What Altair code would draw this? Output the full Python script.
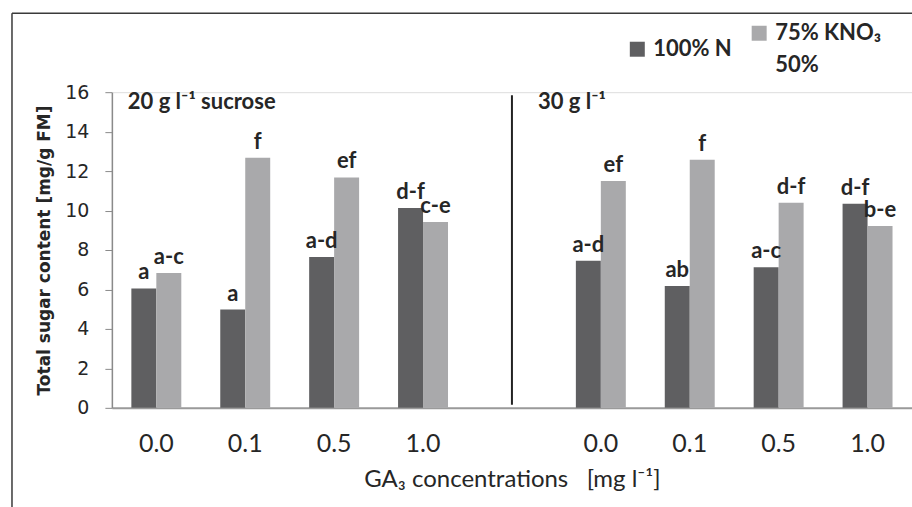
import altair as alt
import pandas as pd

# ---- data ----
sucrose = ["20", "20", "20", "20", "30", "30", "30", "30"]
ga3 = ["0.0", "0.1", "0.5", "1.0", "0.0", "0.1", "0.5", "1.0"]
series_names = ["100% N", "75% KNO₃ 50%"]
n100_values = [6.05, 4.98, 7.64, 10.13, 7.45, 6.17, 7.13, 10.35]
kno3_values = [6.84, 12.68, 11.68, 9.42, 11.50, 12.58, 10.40, 9.22]
n100_letters = ["a", "a", "a-d", "d-f", "a-d", "ab", "a-c", "d-f"]
kno3_letters = ["a-c", "f", "ef", "c-e", "ef", "f", "d-f", "b-e"]
y_ticks = [0, 2, 4, 6, 8, 10, 12, 14, 16]

slots = [f"{s}-{g}" for s, g in zip(sucrose[:4], ga3[:4])] + ["gap"] + \
        [f"{s}-{g}" for s, g in zip(sucrose[4:], ga3[4:])]

rows = []
for i in range(8):
    key = f"{sucrose[i]}-{ga3[i]}"
    rows.append({"slot": key, "series": series_names[0], "value": n100_values[i], "letter": n100_letters[i]})
    rows.append({"slot": key, "series": series_names[1], "value": kno3_values[i], "letter": kno3_letters[i]})
df = pd.DataFrame(rows)

DARK = "#5f5f61"
LIGHT = "#a9a9ab"
TXT = "#262626"

x_scale = alt.Scale(domain=slots, paddingInner=0, paddingOuter=0)
x_axis = alt.Axis(
    title="GA₃ concentrations\u00a0\u00a0\u00a0[mg l⁻¹]",
    labelExpr="datum.value == 'gap' ? '' : split(datum.value, '-')[1]",
    ticks=False, tickSize=0, labelPadding=24, labelAngle=0,
    labelFont="Lato", labelFontSize=25, labelColor=TXT,
    titleFont="Lato", titleFontSize=24, titleFontWeight="normal", titleColor=TXT,
    titlePadding=11,
    domainColor="#9a9a9a", domainWidth=2,
)
y_scale = alt.Scale(domain=[0, 16], nice=False)
y_axis = alt.Axis(
    title="Total sugar content [mg/g FM]",
    values=y_ticks, labelOverlap=False,
    grid=False, tickSize=7, tickColor="#8a8a8a", domainColor="#8a8a8a", domainWidth=1.5,
    labelFont="DejaVu Sans", labelFontSize=19, labelColor=TXT, labelPadding=16,
    titleFont="DejaVu Sans", titleFontSize=17, titleFontWeight="bold", titleColor=TXT,
    titlePadding=11,
)


def X(field, **kw):
    return alt.X(field, scale=x_scale, axis=x_axis, **kw)


def Y(field):
    return alt.Y(field, scale=y_scale, axis=y_axis)


xoff = alt.XOffset("series:N", scale=alt.Scale(domain=series_names, paddingInner=0, paddingOuter=0.78))

bars = alt.Chart(df).mark_bar().encode(
    x=X("slot:N"),
    xOffset=xoff,
    y=Y("value:Q"),
    color=alt.Color(
        "series:N",
        scale=alt.Scale(domain=series_names, range=[DARK, LIGHT]),
        legend=alt.Legend(
            title=None, orient="none", direction="horizontal",
            legendX=515, legendY=-70,
            symbolType="square", symbolSize=225, symbolStrokeWidth=0,
            labelFont="Lato", labelFontSize=22, labelFontWeight="bold", labelColor=TXT,
            labelOffset=5, columnPadding=16, padding=0,
            labelExpr="datum.label == '100% N' ? datum.label : ['75% KNO₃', '50%']",
        ),
    ),
)

letters = alt.Chart(df).mark_text(
    font="Lato", fontSize=22, fontWeight="bold", color=TXT, baseline="alphabetic", dy=-9
).encode(
    x=X("slot:N"),
    xOffset=xoff,
    y=Y("value:Q"),
    text="letter:N",
)

sep_df = pd.DataFrame({"slot": ["gap"], "y0": [0.15], "y1": [15.85]})
separator = alt.Chart(sep_df).mark_rule(color="#222", strokeWidth=2).encode(
    x=X("slot:N"), y=Y("y0:Q"), y2="y1:Q"
)

panel20 = alt.Chart(pd.DataFrame({"slot": [slots[0]], "y": [15.5], "t": ["20 g l⁻¹ sucrose"]})).mark_text(
    font="Lato", fontSize=22, fontWeight="bold", color=TXT, align="left", baseline="middle", dx=16
).encode(x=X("slot:N", bandPosition=0), y=Y("y:Q"), text="t:N")

panel30 = alt.Chart(pd.DataFrame({"slot": ["gap"], "y": [15.5], "t": ["30 g l⁻¹"]})).mark_text(
    font="Lato", fontSize=22, fontWeight="bold", color=TXT, align="left", baseline="middle", dx=26
).encode(x=X("slot:N"), y=Y("y:Q"), text="t:N")

border_left = alt.Chart(pd.DataFrame({"k": [0]})).mark_rule(color="#3a3a3a", strokeWidth=1.5).encode(
    x=alt.value(-100), y=alt.value(-79), y2=alt.value(430)
)
border_top = alt.Chart(pd.DataFrame({"k": [0]})).mark_rule(color="#3a3a3a", strokeWidth=1.5).encode(
    x=alt.value(-100), x2=alt.value(820), y=alt.value(-79)
)

chart = alt.layer(bars, letters, separator, panel20, panel30, border_left, border_top).properties(
    width=801, height=316,
    autosize=alt.AutoSizeParams(type="none"),
    padding={"left": 112, "top": 92, "right": 0, "bottom": 99},
    background="white",
).configure_view(stroke=None).configure(
    style={"guide-label": {"lineHeight": 32}}
)

chart.save("out.html", embed_options={"renderer": "svg", "actions": False})
